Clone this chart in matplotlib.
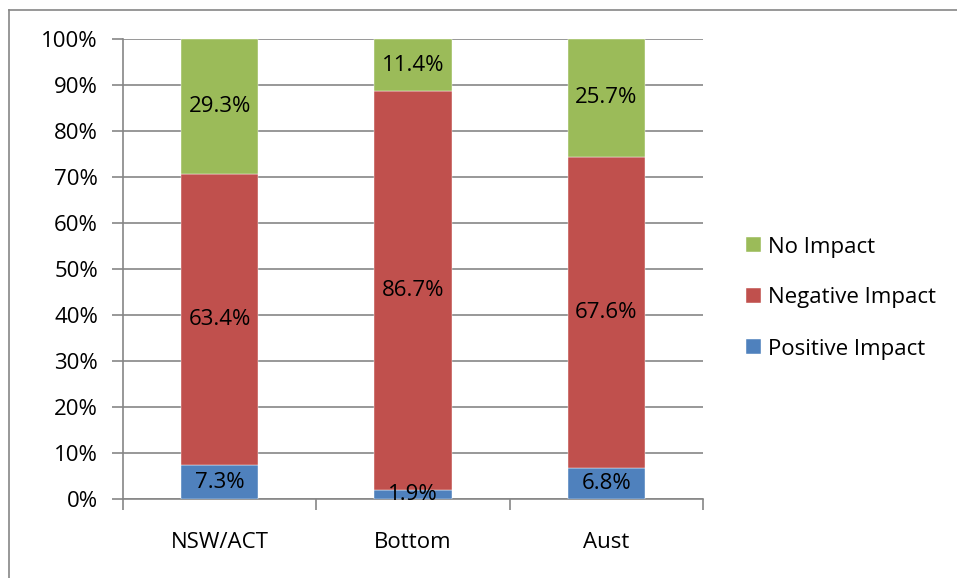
import matplotlib
matplotlib.use("Agg")
import matplotlib.pyplot as plt
from matplotlib.lines import Line2D
import numpy as np

categories = ["NSW/ACT", "Bottom", "Aust"]
positive = [7.3, 1.9, 6.8]
negative = [63.4, 86.7, 67.6]
no_impact = [29.3, 11.4, 25.7]
series_names = ["Positive Impact", "Negative Impact", "No Impact"]
colors = ["#4F81BD", "#C0504D", "#9BBB59"]
yticks = [0, 10, 20, 30, 40, 50, 60, 70, 80, 90, 100]

plt.rcParams['font.family'] = ['Open Sans', 'DejaVu Sans']
FS = 16
W, H = 957, 578
fig = plt.figure(figsize=(W/100, H/100), dpi=100)
ax = fig.add_axes([123/W, 1-499/H, (703-123)/W, (499-39)/H])

# outer frame (left and top visible)
fig.add_artist(Line2D([9/W, 9/W], [0, 1-10/H], color="#868686", lw=1.2, transform=fig.transFigure))
fig.add_artist(Line2D([9/W, 1], [1-10/H, 1-10/H], color="#868686", lw=1.2, transform=fig.transFigure))

x = np.arange(len(categories))
width = 0.4
data = [positive, negative, no_impact]
bottom = np.zeros(len(categories))
handles = []
for vals, name, c in zip(data, series_names, colors):
    vals = np.array(vals)
    b = ax.bar(x, vals, width, bottom=bottom, color=c, label=name, zorder=3,
               edgecolor="white", linewidth=0.3)
    handles.append(b)
    for xi, v, bt in zip(x, vals, bottom):
        ax.text(xi, bt + v/2, f"{v:.1f}%", ha="center", va="center", fontsize=FS,
                color="black", zorder=5)
    bottom = bottom + vals

ax.set_xlim(-0.5, len(categories) - 0.5)
ax.set_ylim(0, 100)
ax.set_yticks(yticks)
ax.set_yticklabels([f"{t}%" for t in yticks], fontsize=FS)
ax.yaxis.grid(True, color="#868686", lw=1.2, zorder=0)
ax.set_axisbelow(True)
ax.set_xticks(x)
ax.set_xticklabels(categories, fontsize=FS)
ax.tick_params(axis='x', length=0, pad=24)
ax.set_xticks(np.arange(-0.5, len(categories)), minor=True)
ax.tick_params(axis='x', which='minor', length=8, color="#868686", width=1.2)
ax.tick_params(axis='y', length=8, color="#868686", width=1.2, pad=10)
for s in ["top", "right"]:
    ax.spines[s].set_visible(False)
for s in ["left", "bottom"]:
    ax.spines[s].set_color("#868686")
    ax.spines[s].set_linewidth(1.2)

leg = fig.legend(handles=handles[::-1], labels=series_names[::-1],
                 loc="center left", bbox_to_anchor=(726/W, 1-298/H),
                 frameon=False, fontsize=FS, handlelength=0.68, handleheight=0.68,
                 handletextpad=0.3, labelspacing=1.35)

fig.savefig("out.png", dpi=100)
